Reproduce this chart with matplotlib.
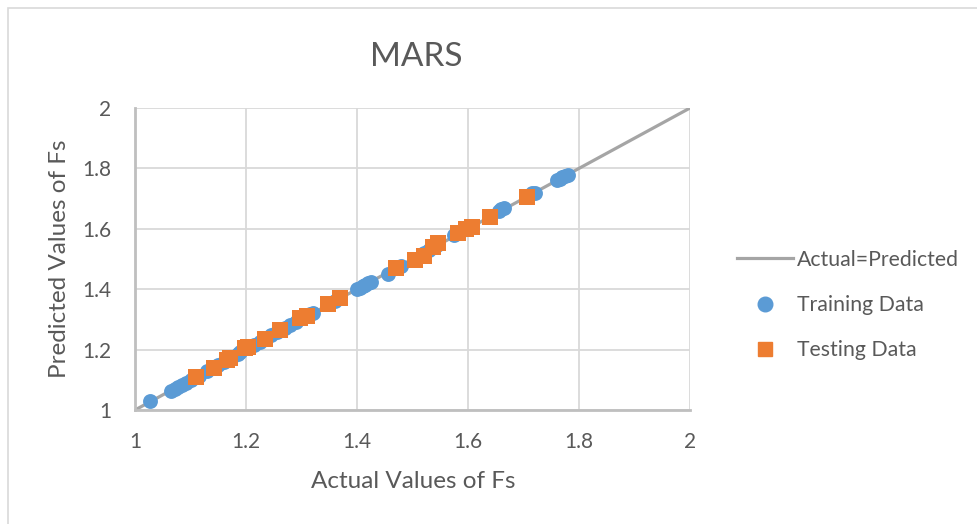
import matplotlib
matplotlib.use("Agg")
import matplotlib.pyplot as plt
from matplotlib.lines import Line2D
from matplotlib.patches import Rectangle

plt.rcParams['font.family'] = ['Lato', 'DejaVu Sans']

train_actual = [1.027, 1.065, 1.072, 1.078, 1.085, 1.092, 1.100, 1.115, 1.130, 1.150,
                1.160, 1.175, 1.185, 1.190, 1.215, 1.225, 1.245, 1.255, 1.270, 1.280,
                1.290, 1.315, 1.320, 1.360, 1.400, 1.405, 1.410, 1.415, 1.420, 1.425,
                1.455, 1.480, 1.520, 1.530, 1.545, 1.575, 1.585, 1.655, 1.660, 1.665,
                1.715, 1.720, 1.760, 1.765, 1.770, 1.775, 1.780]
train_pred = [1.031, 1.063, 1.070, 1.077, 1.084, 1.091, 1.099, 1.114, 1.128, 1.150,
              1.160, 1.176, 1.185, 1.192, 1.216, 1.226, 1.250, 1.258, 1.272, 1.282,
              1.292, 1.318, 1.322, 1.362, 1.400, 1.405, 1.410, 1.415, 1.420, 1.425,
              1.450, 1.477, 1.520, 1.530, 1.545, 1.578, 1.588, 1.660, 1.665, 1.670,
              1.718, 1.720, 1.762, 1.766, 1.770, 1.774, 1.778]

test_actual = [1.110, 1.142, 1.165, 1.172, 1.198, 1.204, 1.234, 1.261, 1.297, 1.310,
               1.348, 1.370, 1.470, 1.505, 1.520, 1.537, 1.546, 1.582, 1.597, 1.607,
               1.640, 1.706]
test_pred = [1.110, 1.139, 1.165, 1.172, 1.205, 1.210, 1.235, 1.265, 1.305, 1.312,
             1.351, 1.372, 1.470, 1.497, 1.510, 1.540, 1.553, 1.586, 1.598, 1.607,
             1.640, 1.705]

ticks = [1, 1.2, 1.4, 1.6, 1.8, 2]
tick_labels = ['1', '1.2', '1.4', '1.6', '1.8', '2']
ref_line = [1, 2]

fig = plt.figure(figsize=(9.78, 5.24), dpi=100)
fig.patches.append(Rectangle((8/978, -0.1), 1.2, 1 - 8/524 + 0.1, transform=fig.transFigure,
                             fill=False, edgecolor='#d9d9d9', linewidth=1.2))
ax = fig.add_axes([135/978, 1 - 410/524, 555/978, 302/524])

ax.plot(ref_line, ref_line, color='#a5a5a5', linewidth=2.3, zorder=2, solid_capstyle='butt')
ax.scatter(train_actual, train_pred, s=115, color='#5b9bd5', marker='o', linewidths=0, zorder=3)
ax.scatter(test_actual, test_pred, s=130, color='#ed7d31', marker='s', linewidths=0, zorder=4)

ax.set_xlim(1, 2)
ax.set_ylim(1, 2)
ax.set_xticks(ticks)
ax.set_yticks(ticks)
ax.set_xticklabels(tick_labels)
ax.set_yticklabels(tick_labels)
ax.grid(True, color='#d9d9d9', linewidth=1.3, zorder=0)
ax.set_axisbelow(True)
for s in ['top', 'right']:
    ax.spines[s].set_visible(False)
for s in ['left', 'bottom']:
    ax.spines[s].set_color('#bfbfbf')
    ax.spines[s].set_linewidth(2.0)
ax.tick_params(length=0, labelsize=15, colors='#595959')
ax.tick_params(axis='x', pad=16)
ax.tick_params(axis='y', pad=17)

fig.text(413/978, 1 - 481/524, 'Actual Values of Fs', fontsize=17.5, color='#595959',
         ha='center', va='center')
fig.text(60/978, 1 - 259/524, 'Predicted Values of Fs', fontsize=17.5, color='#595959',
         ha='center', va='center', rotation=90)
fig.text(416/978, 1 - 57/524, 'MARS', fontsize=24, color='#595959', ha='center', va='center')

handles = [Line2D([0], [0], color='#a5a5a5', lw=2.3),
           Line2D([0], [0], color='#5b9bd5', marker='o', linestyle='none', markersize=10.5),
           Line2D([0], [0], color='#ed7d31', marker='s', linestyle='none', markersize=10)]
labels = ['Actual=Predicted', 'Training Data', 'Testing Data']
leg = fig.legend(handles, labels, loc='center left', bbox_to_anchor=(729/978, 1 - 305/524),
                 frameon=False, fontsize=15.3, labelcolor='#595959', handlelength=2.6,
                 handletextpad=0.2, labelspacing=1.18, borderaxespad=0)

fig.savefig('out.png', dpi=100)
